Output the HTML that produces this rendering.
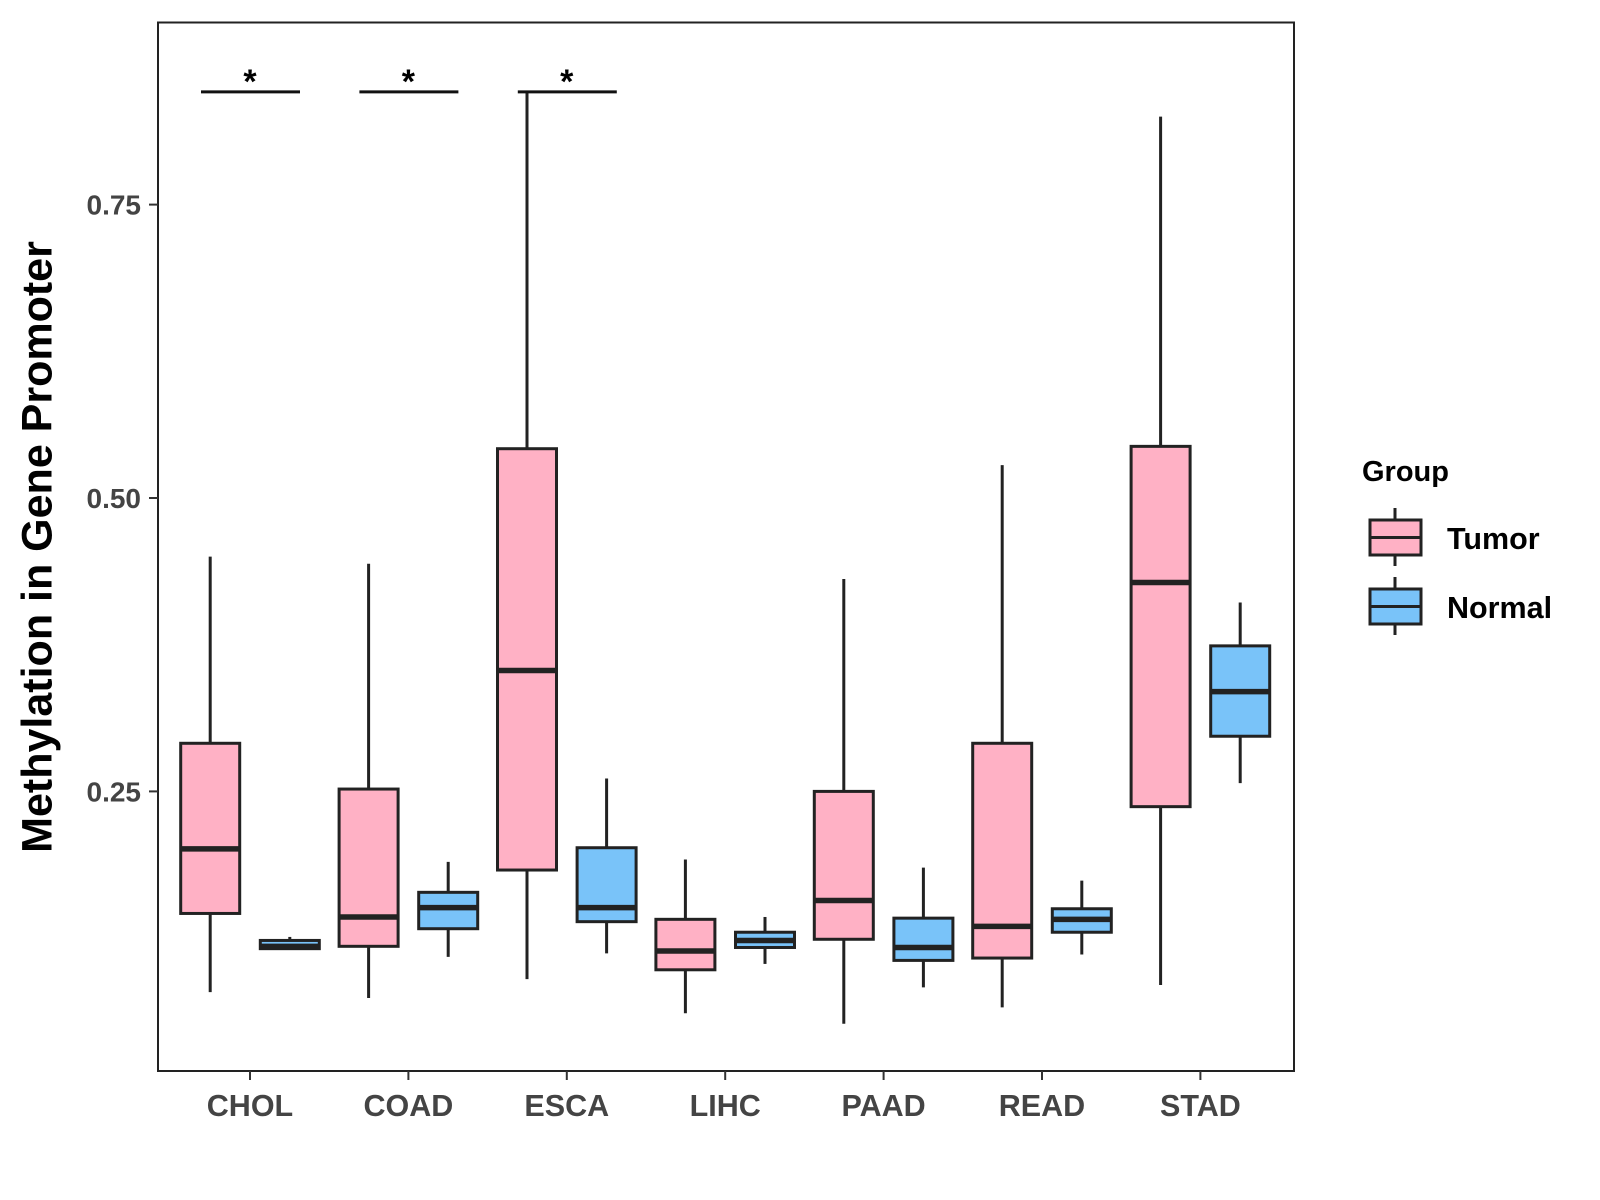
<!DOCTYPE html>
<html><head><meta charset="utf-8"><style>
html,body{margin:0;padding:0;background:#fff;}
svg{display:block;font-family:"Liberation Sans",Arial,sans-serif;}
</style></head><body>
<svg id="chart" width="1600" height="1200" viewBox="0 0 1600 1200">
<rect x="0" y="0" width="1600" height="1200" fill="#fff"/>
<g id="marks"></g>
<rect x="158" y="22.5" width="1136" height="1048.5" fill="none" stroke="#222" stroke-width="2"/>
<g id="axes"></g>
<text x="40" y="547" transform="rotate(-90 40 547)" text-anchor="middle" dominant-baseline="middle" font-size="43" font-weight="bold" fill="#000">Methylation in Gene Promoter</text>
<g>
<text x="1362" y="481" font-size="29" font-weight="bold" fill="#000">Group</text>
<g>
<line x1="1395" y1="508" x2="1395" y2="566" stroke="#222" stroke-width="3"/>
<rect x="1370" y="520" width="51" height="35" fill="#FFB1C5" stroke="#222" stroke-width="3"/>
<line x1="1370" y1="537.5" x2="1421" y2="537.5" stroke="#222" stroke-width="3"/>
<text x="1447" y="549" font-size="30.5" font-weight="bold" fill="#000">Tumor</text>
</g>
<g>
<line x1="1395" y1="577" x2="1395" y2="635" stroke="#222" stroke-width="3"/>
<rect x="1370" y="589" width="51" height="35" fill="#79C3F9" stroke="#222" stroke-width="3"/>
<line x1="1370" y1="606.5" x2="1421" y2="606.5" stroke="#222" stroke-width="3"/>
<text x="1447" y="618" font-size="30.5" font-weight="bold" fill="#000">Normal</text>
</g>
</g>
</svg>
<script>
const categories = ["CHOL","COAD","ESCA","LIHC","PAAD","READ","STAD"];
// [low, q1, median, q3, high]
const tumorStats = [
 [0.079,0.146,0.201,0.291,0.450],
 [0.074,0.118,0.143,0.252,0.444],
 [0.090,0.183,0.353,0.542,0.846],
 [0.061,0.098,0.114,0.141,0.192],
 [0.052,0.124,0.157,0.250,0.431],
 [0.066,0.108,0.135,0.291,0.528],
 [0.085,0.237,0.428,0.544,0.825]
];
const normalStats = [
 [0.116,0.116,0.118,0.123,0.126],
 [0.109,0.133,0.151,0.164,0.190],
 [0.112,0.139,0.151,0.202,0.261],
 [0.103,0.117,0.123,0.130,0.143],
 [0.083,0.106,0.117,0.142,0.185],
 [0.111,0.130,0.141,0.150,0.174],
 [0.257,0.297,0.335,0.374,0.411]
];
const yTicks = [0.25,0.50,0.75];
const yTickLabels = ["0.25","0.50","0.75"];
const sigCategories = ["CHOL","COAD","ESCA"];
const sigLevel = 0.846;

const NS="http://www.w3.org/2000/svg";
function y(v){return 498-(v-0.5)*1173.6;}
function x(i){return 250+i*158.4;}
function mk(tag,attrs,parent){const e=document.createElementNS(NS,tag);for(const k in attrs)e.setAttribute(k,attrs[k]);parent.appendChild(e);return e;}
const marks=document.getElementById('marks');
const axes=document.getElementById('axes');
const bw=59, dodge=39.8;
function drawBox(s,cx,fill,name){
  const g=mk('g',{},marks);
  
  
  mk('line',{x1:cx,x2:cx,y1:y(s[4]),y2:y(s[0]),stroke:'#222','stroke-width':3},g);
  mk('rect',{x:cx-bw/2,y:y(s[3]),width:bw,height:Math.max(y(s[1])-y(s[3]),1),fill:fill,stroke:'#222','stroke-width':3},g);
  mk('line',{x1:cx-bw/2,x2:cx+bw/2,y1:y(s[2]),y2:y(s[2]),stroke:'#222','stroke-width':5.5},g);
}
categories.forEach((c,i)=>{
  drawBox(tumorStats[i],x(i)-dodge,'#FFB1C5','box-tumor-'+c.toLowerCase());
  drawBox(normalStats[i],x(i)+dodge,'#79C3F9','box-normal-'+c.toLowerCase());
  mk('line',{x1:x(i),x2:x(i),y1:1071,y2:1080,stroke:'#333','stroke-width':2},axes);
  const t=mk('text',{x:x(i),y:1116,'text-anchor':'middle','font-size':30.5,'font-weight':'bold',fill:'#444'},axes);
  t.textContent=c;
  
  
});
yTicks.forEach((v,i)=>{
  mk('line',{x1:149,x2:158,y1:y(v),y2:y(v),stroke:'#333','stroke-width':2},axes);
  const t=mk('text',{x:141,y:y(v)+10,'text-anchor':'end','font-size':28,'font-weight':'bold',fill:'#444'},axes);
  t.textContent=yTickLabels[i];
  
  
});
sigCategories.forEach(c=>{
  const i=categories.indexOf(c);
  const g=mk('g',{},marks);
  
  
  mk('line',{x1:x(i)-49,x2:x(i)+50,y1:y(sigLevel),y2:y(sigLevel),stroke:'#111','stroke-width':3},g);
  const t=mk('text',{x:x(i),y:y(sigLevel)+1,'text-anchor':'middle','font-size':34,'font-weight':'bold',fill:'#000'},g);
  t.textContent='*';
});
</script>
</body></html>
